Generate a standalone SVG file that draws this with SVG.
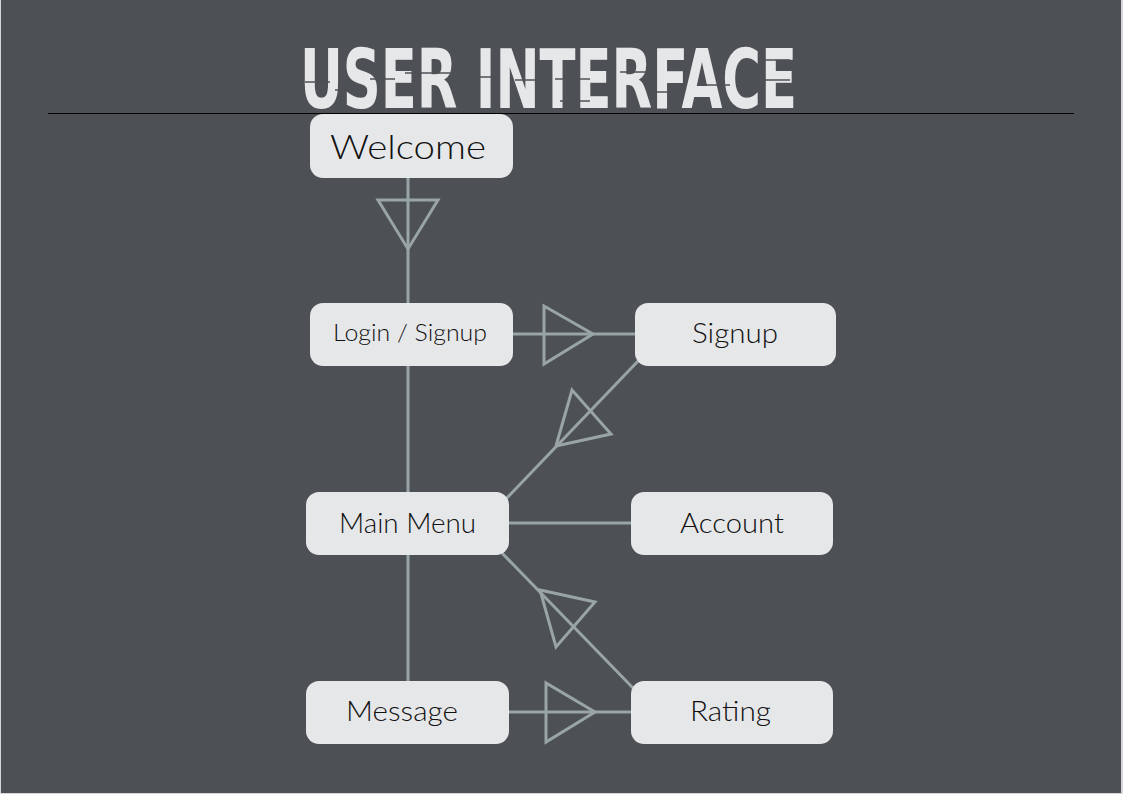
<svg xmlns="http://www.w3.org/2000/svg" width="1123" height="794" viewBox="0 0 1123 794">
<style>
.node rect{fill:#e6e7e9;}
.node text{font-family:Lato,"Noto Sans",sans-serif;font-weight:300;fill:#111;text-anchor:middle;}
.conn line,.conn polygon{stroke:#99a4a7;stroke-width:3;fill:none;}
.title{font-family:"Liberation Sans Narrow","DejaVu Sans Condensed",sans-serif;font-weight:bold;fill:#e6e7e9;}
.glitch{stroke:#4d5054;stroke-width:1.5;}
</style>
<rect x="0" y="0" width="1123" height="794" fill="#d3d5d7"/>
<rect x="1" y="0" width="1120" height="793" fill="#4d5054"/>
<g id="title">
<text class="title" x="300" y="107.5" font-size="82.5" textLength="497" lengthAdjust="spacingAndGlyphs">USER INTERFACE</text>
<g class="glitch">
<line x1="305" y1="82" x2="330" y2="82"/><line x1="335" y1="90" x2="360" y2="90"/><line x1="370" y1="79" x2="395" y2="79"/><line x1="405" y1="73" x2="450" y2="73"/><line x1="480" y1="77" x2="500" y2="77"/><line x1="515" y1="80" x2="540" y2="80"/><line x1="555" y1="79" x2="590" y2="79"/><line x1="620" y1="72" x2="650" y2="72"/><line x1="650" y1="92" x2="680" y2="92"/><line x1="700" y1="85" x2="730" y2="85"/><line x1="755" y1="80" x2="790" y2="80"/><line x1="760" y1="60" x2="790" y2="60"/><line x1="560" y1="101" x2="590" y2="101"/>
</g>
</g>
<line x1="48" y1="113.5" x2="1074" y2="113.5" stroke="#000" stroke-width="1"/>
<g class="conn" id="connectors">
<line x1="408" y1="178" x2="408" y2="303"/>
<polygon points="378,200 438,200 408,249"/>
<line x1="408" y1="366" x2="408" y2="492"/>
<line x1="513" y1="334" x2="635" y2="334"/>
<polygon points="544,306 544,364 593,334"/>
<line x1="640" y1="359" x2="504" y2="501"/>
<polygon points="556,446 572,390 611,434"/>
<line x1="509" y1="523" x2="631" y2="523"/>
<line x1="408" y1="555" x2="408" y2="681"/>
<line x1="633" y1="688" x2="502" y2="553"/>
<polygon points="540,590 595,602 556,647"/>
<line x1="509" y1="712" x2="631" y2="712"/>
<polygon points="546,683 546,742 595,712"/>
</g>
<g class="node" id="welcome"><rect x="310" y="114" width="203" height="64" rx="13"/><text x="408" y="159" font-size="34" textLength="156" lengthAdjust="spacingAndGlyphs">Welcome</text></g>
<g class="node" id="login"><rect x="310" y="303" width="203" height="63" rx="13"/><text x="410" y="341" font-size="23" textLength="154" lengthAdjust="spacingAndGlyphs">Login / Signup</text></g>
<g class="node" id="signup"><rect x="635" y="303" width="201" height="63" rx="13"/><text x="735" y="343" font-size="28" textLength="86" lengthAdjust="spacingAndGlyphs">Signup</text></g>
<g class="node" id="mainmenu"><rect x="306" y="492" width="203" height="63" rx="13"/><text x="407.5" y="533" font-size="28" textLength="137" lengthAdjust="spacingAndGlyphs">Main Menu</text></g>
<g class="node" id="account"><rect x="631" y="492" width="202" height="63" rx="13"/><text x="732" y="533" font-size="28" textLength="104" lengthAdjust="spacingAndGlyphs">Account</text></g>
<g class="node" id="message"><rect x="306" y="681" width="203" height="63" rx="13"/><text x="402" y="721" font-size="28" textLength="112" lengthAdjust="spacingAndGlyphs">Message</text></g>
<g class="node" id="rating"><rect x="631" y="681" width="202" height="63" rx="13"/><text x="730.5" y="721" font-size="28" textLength="81" lengthAdjust="spacingAndGlyphs">Rating</text></g>
</svg>
